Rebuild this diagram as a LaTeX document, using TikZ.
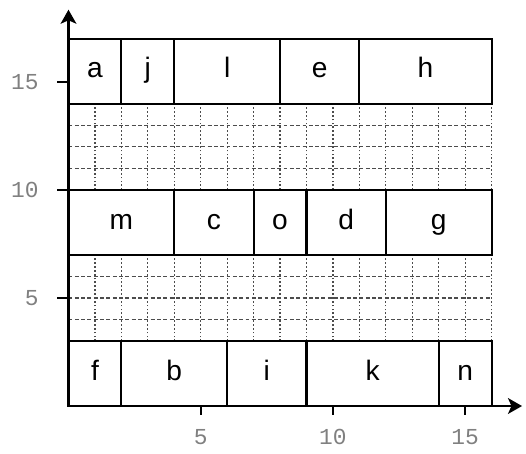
\documentclass[tikz,border=0pt]{standalone}
\usepackage{fontspec}
\setmainfont{Liberation Sans}
\newfontfamily\tickfont{Liberation Mono}
\usetikzlibrary{arrows.meta}

\begin{document}
\begin{tikzpicture}[x=0.529cm, y=0.432cm,
  cellbox/.style={line width=1.2pt, black},
  celltext/.style={font=\fontsize{16}{18}\selectfont, text height=11pt, text depth=3.5pt},
  gridline/.style={gray!60!black, line width=0.7pt},
  axisline/.style={line width=1.2pt, -{Stealth[length=8pt, width=9pt, inset=2pt]}},
  ticklabel/.style={font=\tickfont\fontsize{13}{15}\selectfont, gray}]
\useasboundingbox (-2.59, -2.176) rectangle (17.30, 18.80);
% dotted fill between the rows of blocks
\foreach \ylo in {3, 10} {
  \foreach \gx in {1,...,16}
    \draw[gridline, dash pattern=on 1pt off 1.2pt] (\gx, \ylo) -- (\gx, \ylo+4);
  \foreach \gy in {1,2,3}
    \draw[gridline, dash pattern=on 2.2pt off 1.4pt] (0, \ylo+\gy) -- (16, \ylo+\gy);
}
% three rows of blocks: x from, x to, label
\foreach \xa/\xb/\lbl in {0/2/f, 2/6/b, 6/9/i, 9/14/k, 14/16/n}
  \draw[cellbox] (\xa, 0) rectangle node[celltext] (c\lbl) {\lbl} (\xb, 3);
\foreach \xa/\xb/\lbl in {0/4/m, 4/7/c, 7/9/o, 9/12/d, 12/16/g}
  \draw[cellbox] (\xa, 7) rectangle node[celltext] (c\lbl) {\lbl} (\xb, 10);
\foreach \xa/\xb/\lbl in {0/2/a, 2/4/j, 4/8/l, 8/11/e, 11/16/h}
  \draw[cellbox] (\xa, 14) rectangle node[celltext] (c\lbl) {\lbl} (\xb, 17);
% axes
\coordinate (origin) at (0, 0);
\coordinate (xend) at (17.15, 0);
\coordinate (yend) at (0, 18.35);
\draw[axisline] (origin) -- (xend);
\draw[axisline] (origin) -- (yend);
\foreach \t in {5, 10, 15} {
  \draw[line width=1.2pt] (\t, 0) -- (\t, -0.42);
  \node[ticklabel] (xl\t) at (\t, -1.44) {\t};
  \draw[line width=1.2pt] (0, \t) -- (-0.45, \t);
  \node[ticklabel, anchor=east] (yl\t) at (-0.9, \t) {\t};
}
\end{tikzpicture}
\end{document}
